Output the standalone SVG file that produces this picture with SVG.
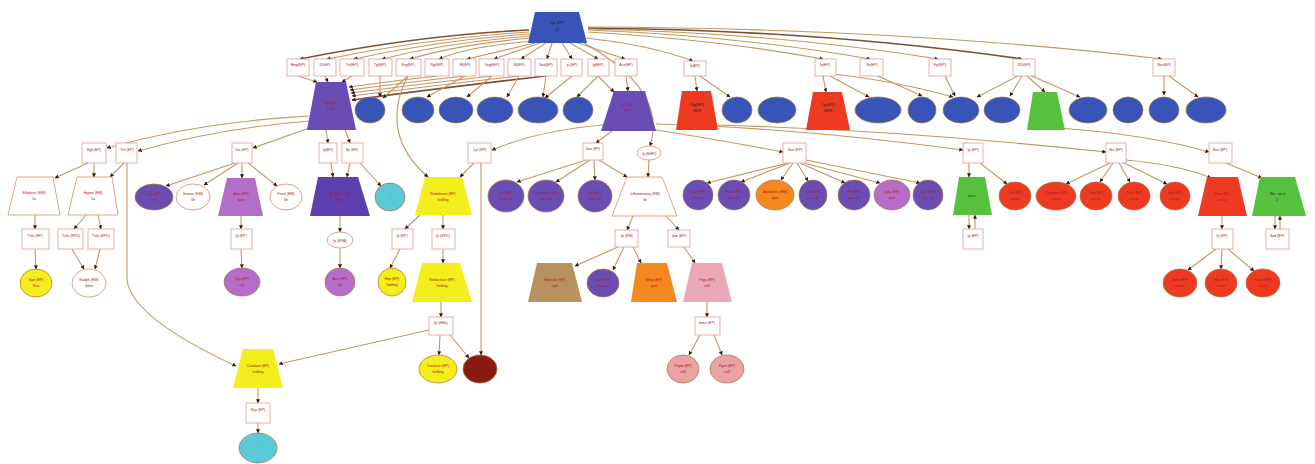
<svg xmlns="http://www.w3.org/2000/svg" width="1315" height="464" viewBox="0 0 1315 464">
<style>
.bg{fill:#fff}
.bx{fill:#fff;stroke:#e59a9a;stroke-width:.8}
.ed{fill:none;stroke:#c69660;stroke-width:1.1;marker-end:url(#ah)}
.dk{stroke:#7a5030;stroke-width:1.6}
.t{font-family:"Liberation Sans",Arial,sans-serif;font-size:3.6px;fill:#a81818;text-anchor:middle}
.tk{fill:#1a1a3a}
.ol{stroke:#a8703e;stroke-width:.7}
.blue{fill:#3954b9}
.pur{fill:#6a4db4}
.dpur{fill:#5d3fb0}
.red{fill:#ef3a22}
.grn{fill:#55c13c}
.orc{fill:#b46ec8}
.yel{fill:#f4ef1c}
.cyn{fill:#5cc9d9}
.org{fill:#f5881e}
.brn{fill:#b8925e}
.pnk{fill:#e8a8b8}
.salm{fill:#e9a3a3}
.drd{fill:#8b1a12}
.wht{fill:#fff;stroke:#d98a6a;stroke-width:.8}
</style>
<defs>
<marker id="ah" viewBox="0 0 6 6" refX="5.5" refY="3" markerWidth="4" markerHeight="4" markerUnits="userSpaceOnUse" orient="auto">
<path d="M0,0 L6,3 L0,6 z" fill="#2a1a10"/>
</marker>
</defs>
<rect class="bg" x="0" y="0" width="1315" height="464"/>

<g id="connectors">
<!-- root to row 1 -->
<path class="ed dk" d="M529,30 Q420,35 300,59"/>
<path class="ed" d="M529,32 Q430,38 327,59"/>
<path class="ed" d="M530,34 Q440,40 354,59"/>
<path class="ed" d="M531,36 Q450,42 382,59"/>
<path class="ed" d="M532,38 Q460,44 410,59"/>
<path class="ed" d="M533,41 Q470,46 439,59"/>
<path class="ed" d="M535,43 L467,59"/>
<path class="ed" d="M540,43 L494,59"/>
<path class="ed" d="M546,43 L521,59"/>
<path class="ed" d="M552,43 L547,59"/>
<path class="ed" d="M562,43 L572,59"/>
<path class="ed" d="M570,43 L598,59"/>
<path class="ed" d="M578,43 L625,59"/>
<path class="ed" d="M586,38 Q650,45 693,61"/>
<path class="ed" d="M588,32 Q720,40 823,59"/>
<path class="ed" d="M588,30 Q740,36 870,59"/>
<path class="ed" d="M588,29 Q780,33 938,59"/>
<path class="ed dk" d="M588,28 Q820,30 1022,59"/>
<path class="ed" d="M588,27 Q900,28 1162,59"/>
<path class="ed" d="M584,43 Q668,90 650,146"/>
<!-- row 1 to row 2 -->
<path class="ed" d="M298,76 L317,82"/>
<path class="ed" d="M325,76 L328,82"/>
<path class="ed" d="M352,76 L342,82"/>
<path class="ed" d="M437,76 Q400,80 349,87"/>
<path class="ed" d="M465,76 Q410,82 350,90"/>
<path class="ed" d="M492,76 Q420,84 351,93"/>
<path class="ed" d="M519,76 Q430,86 352,96"/>
<path class="ed dk" d="M546,76 Q440,88 352,100"/>
<path class="ed" d="M408,76 C395,100 385,140 428,177"/>
<path class="ed" d="M380,76 L380,97"/>
<path class="ed" d="M408,76 L383,98"/>
<path class="ed" d="M465,76 L427,97"/>
<path class="ed" d="M492,76 L467,97"/>
<path class="ed" d="M519,76 L507,97"/>
<path class="ed" d="M546,76 L543,97"/>
<path class="ed" d="M572,76 L545,98"/>
<path class="ed" d="M598,76 L577,97"/>
<path class="ed" d="M598,76 L614,92"/>
<path class="ed" d="M626,76 L628,91"/>
<path class="ed" d="M695,76 L697,91"/>
<path class="ed" d="M700,76 L730,97"/>
<path class="ed" d="M823,76 L826,92"/>
<path class="ed" d="M830,76 L869,97"/>
<path class="ed" d="M834,74 Q900,82 953,97"/>
<path class="ed" d="M878,76 L922,96"/>
<path class="ed" d="M945,76 L955,96"/>
<path class="ed" d="M1018,76 L977,97"/>
<path class="ed" d="M1022,76 L1010,96"/>
<path class="ed" d="M1027,76 L1045,92"/>
<path class="ed" d="M1032,76 L1080,97"/>
<path class="ed" d="M1164,76 L1164,95"/>
<path class="ed" d="M1169,76 L1198,97"/>
<!-- row 2 to row 3 -->
<path class="ed" d="M309,116 Q200,122 107,148"/>
<path class="ed" d="M310,121 Q220,128 138,151"/>
<path class="ed" d="M312,127 L253,148"/>
<path class="ed" d="M326,130 L328,143"/>
<path class="ed" d="M345,130 L350,143"/>
<path class="ed" d="M603,125 Q540,130 492,150"/>
<path class="ed" d="M612,131 L596,143"/>
<path class="ed" d="M650,129 Q720,140 783,152"/>
<path class="ed" d="M656,124 Q800,128 963,150"/>
<path class="ed" d="M716,125 Q900,130 1106,152"/>
<path class="ed" d="M1060,128 Q1150,135 1209,152"/>
<!-- row 3 to row 4 -->
<path class="ed" d="M88,163 L55,178"/>
<path class="ed" d="M94,163 L94,177"/>
<path class="ed" d="M124,163 L110,177"/>
<path class="ed" d="M127,163 L127,280 Q132,318 236,366"/>
<path class="ed" d="M235,163 L166,186"/>
<path class="ed" d="M238,163 L204,185"/>
<path class="ed" d="M242,163 L242,178"/>
<path class="ed" d="M248,163 L277,186"/>
<path class="ed" d="M331,163 L333,177"/>
<path class="ed" d="M350,163 L347,177"/>
<path class="ed" d="M360,163 L381,186"/>
<path class="ed" d="M474,163 L460,177"/>
<path class="ed" d="M481,163 L481,355"/>
<path class="ed" d="M586,160 L517,182"/>
<path class="ed" d="M590,160 L556,182"/>
<path class="ed" d="M594,160 L595,180"/>
<path class="ed" d="M599,160 L627,177"/>
<path class="ed" d="M649,160 L648,177"/>
<path class="ed" d="M788,163 L707,183"/>
<path class="ed" d="M790,163 L741,182"/>
<path class="ed" d="M793,163 L781,180"/>
<path class="ed" d="M797,163 L808,181"/>
<path class="ed" d="M800,163 L845,183"/>
<path class="ed" d="M804,163 L880,183"/>
<path class="ed" d="M806,160 L920,183"/>
<path class="ed" d="M969,163 L969,177"/>
<path class="ed" d="M980,163 L1007,184"/>
<path class="ed" d="M1110,163 L1066,184"/>
<path class="ed" d="M1113,163 L1100,182"/>
<path class="ed" d="M1119,163 L1130,182"/>
<path class="ed" d="M1124,163 L1167,184"/>
<path class="ed" d="M1126,160 Q1180,165 1211,178"/>
<path class="ed" d="M1226,163 L1262,178"/>
<!-- row 4 to row 5 -->
<path class="ed" d="M35,215 L35,229"/>
<path class="ed" d="M86,215 L74,229"/>
<path class="ed" d="M98,215 L101,229"/>
<path class="ed" d="M241,216 L241,229"/>
<path class="ed" d="M340,216 L340,232"/>
<path class="ed" d="M420,215 L405,229"/>
<path class="ed" d="M443,215 L443,229"/>
<path class="ed" d="M633,216 L627,230"/>
<path class="ed" d="M666,216 L679,230"/>
<path class="ed" d="M969,215 L969,229"/>
<path class="ed" d="M975,229 L975,215"/>
<path class="ed" d="M1222,216 L1222,229"/>
<path class="ed" d="M1275,216 L1275,229"/>
<path class="ed" d="M1280,229 L1280,216"/>
<!-- row 5 to row 6 -->
<path class="ed" d="M35,249 L36,269"/>
<path class="ed" d="M72,249 L84,269"/>
<path class="ed" d="M100,249 L95,269"/>
<path class="ed" d="M241,249 L242,268"/>
<path class="ed" d="M340,248 L340,268"/>
<path class="ed" d="M400,249 L390,268"/>
<path class="ed" d="M443,249 L443,263"/>
<path class="ed" d="M618,247 L575,266"/>
<path class="ed" d="M624,247 L613,270"/>
<path class="ed" d="M633,247 L641,263"/>
<path class="ed" d="M684,247 L695,263"/>
<path class="ed" d="M1216,249 L1188,270"/>
<path class="ed" d="M1222,249 L1221,269"/>
<path class="ed" d="M1228,249 L1254,271"/>
<!-- lower rows -->
<path class="ed" d="M441,302 L441,317"/>
<path class="ed" d="M707,302 L707,317"/>
<path class="ed" d="M440,335 L439,355"/>
<path class="ed" d="M450,335 L469,358"/>
<path class="ed" d="M429,330 L279,364"/>
<path class="ed" d="M700,335 L689,355"/>
<path class="ed" d="M714,335 L722,355"/>
<path class="ed" d="M258,388 L258,403"/>
<path class="ed" d="M258,423 L258,433"/>
</g>

<!-- root -->
<g id="root"><polygon class="blue" points="535,12 579,12 587,43 528,43"/><text class="t tk" x="557" y="24">Lyz (EP)</text><text class="t tk" x="557" y="31">12</text></g>

<!-- row 1 boxes -->
<g id="b1"><rect class="bx" x="287" y="59" width="22" height="17"/><text class="t" x="298" y="66">Bmp(EP)</text></g>
<g id="b2"><rect class="bx" x="314" y="59" width="22" height="17"/><text class="t" x="325" y="66">Il1(EP)</text></g>
<g id="b3"><rect class="bx" x="340" y="59" width="24" height="17"/><text class="t" x="352" y="66">Tnf(EP)</text></g>
<g id="b4"><rect class="bx" x="369" y="59" width="23" height="17"/><text class="t" x="380" y="66">Tgf(EP)</text></g>
<g id="b5"><rect class="bx" x="396" y="59" width="25" height="17"/><text class="t" x="408" y="66">Ifng(EP)</text></g>
<g id="b6"><rect class="bx" x="425" y="59" width="24" height="17"/><text class="t" x="437" y="66">Ngf(EP)</text></g>
<g id="b7"><rect class="bx" x="453" y="59" width="23" height="17"/><text class="t" x="465" y="66">Il6(EP)</text></g>
<g id="b8"><rect class="bx" x="479" y="59" width="25" height="17"/><text class="t" x="492" y="66">Vegf(EP)</text></g>
<g id="b9"><rect class="bx" x="508" y="59" width="23" height="17"/><text class="t" x="519" y="66">Il4(EP)</text></g>
<g id="b10"><rect class="bx" x="535" y="59" width="22" height="17"/><text class="t" x="546" y="66">Sod(EP)</text></g>
<g id="b11"><rect class="bx" x="561" y="59" width="21" height="17"/><text class="t" x="572" y="66">p-(EP)</text></g>
<g id="b12"><rect class="bx" x="588" y="59" width="21" height="17"/><text class="t" x="598" y="66">Igf(EP)</text></g>
<g id="b13"><rect class="bx" x="615" y="59" width="22" height="17"/><text class="t" x="626" y="66">Ace(EP)</text></g>
<g id="b14"><rect class="bx" x="684" y="61" width="22" height="15"/><text class="t" x="695" y="67">Ip(EP)</text></g>
<g id="b15"><rect class="bx" x="815" y="59" width="21" height="17"/><text class="t" x="825" y="66">Ip(EP)</text></g>
<g id="b16"><rect class="bx" x="860" y="59" width="23" height="17"/><text class="t" x="872" y="66">Ifn(EP)</text></g>
<g id="b17"><rect class="bx" x="929" y="59" width="22" height="17"/><text class="t" x="940" y="66">Fgf(EP)</text></g>
<g id="b18"><rect class="bx" x="1013" y="59" width="22" height="17"/><text class="t" x="1024" y="66">Il10(EP)</text></g>
<g id="b19"><rect class="bx" x="1153" y="59" width="22" height="17"/><text class="t" x="1164" y="66">Nos(EP)</text></g>

<!-- row 2 -->
<g id="t1"><polygon class="pur" points="316,82 346,82 356,130 307,130"/><text class="t" x="331" y="104">Sbc(EP)</text><text class="t" x="331" y="110">1,2,3</text></g>
<g id="e1"><ellipse class="blue ol" cx="370" cy="110" rx="15" ry="13"/><text class="t tk" x="370" y="108">· ·</text></g>
<g id="e2"><ellipse class="blue ol" cx="418" cy="110" rx="16" ry="13"/><text class="t tk" x="418" y="108">· ·</text></g>
<g id="e3"><ellipse class="blue ol" cx="456" cy="110" rx="17" ry="13"/><text class="t tk" x="456" y="108">· ·</text></g>
<g id="e4"><ellipse class="blue ol" cx="495" cy="110" rx="18" ry="13"/><text class="t tk" x="495" y="108">· ·</text></g>
<g id="e5"><ellipse class="blue ol" cx="538" cy="110" rx="20" ry="13"/><text class="t tk" x="538" y="108">· ·</text></g>
<g id="e6"><ellipse class="blue ol" cx="578" cy="110" rx="15" ry="13"/><text class="t tk" x="578" y="108">· ·</text></g>
<g id="t2"><polygon class="pur" points="614,91 645,91 656,131 601,131"/><text class="t" x="628" y="106">Ta1 (EP)</text><text class="t" x="628" y="112">ATP</text></g>
<g id="t3"><polygon class="red" points="682,91 711,91 718,130 676,130"/><text class="t tk" x="697" y="106">Pgp(EP)</text><text class="t tk" x="697" y="112">MDR</text></g>
<g id="e7"><ellipse class="blue ol" cx="737" cy="110" rx="15" ry="13"/><text class="t tk" x="737" y="108">· ·</text></g>
<g id="e8"><ellipse class="blue ol" cx="777" cy="110" rx="19" ry="13"/><text class="t tk" x="777" y="108">· ·</text></g>
<g id="t4"><polygon class="red" points="813,92 842,92 850,130 806,130"/><text class="t tk" x="828" y="106">Cyp(EP)</text><text class="t tk" x="828" y="112">MDR</text></g>
<g id="e9"><ellipse class="blue ol" cx="878" cy="110" rx="23" ry="13"/><text class="t tk" x="878" y="108">· ·</text></g>
<g id="e10"><ellipse class="blue ol" cx="922" cy="110" rx="14" ry="13"/><text class="t tk" x="922" y="108">· ·</text></g>
<g id="e11"><ellipse class="blue ol" cx="961" cy="110" rx="18" ry="13"/><text class="t tk" x="961" y="108">· ·</text></g>
<g id="e12"><ellipse class="blue ol" cx="1002" cy="110" rx="18" ry="13"/><text class="t tk" x="1002" y="108">· ·</text></g>
<g id="t5"><polygon class="grn" points="1033,92 1057,92 1065,130 1027,130"/><text class="t tk" x="1046" y="108">·</text><text class="t tk" x="1046" y="114">· ·</text></g>
<g id="e13"><ellipse class="blue ol" cx="1088" cy="110" rx="19" ry="13"/><text class="t tk" x="1088" y="108">· ·</text></g>
<g id="e14"><ellipse class="blue ol" cx="1128" cy="110" rx="15" ry="13"/><text class="t tk" x="1128" y="108">· ·</text></g>
<g id="e15"><ellipse class="blue ol" cx="1164" cy="110" rx="15" ry="13"/><text class="t tk" x="1164" y="108">· ·</text></g>
<g id="e16"><ellipse class="blue ol" cx="1206" cy="110" rx="20" ry="13"/><text class="t tk" x="1206" y="108">· ·</text></g>

<!-- row 3 -->
<g id="c1"><rect class="bx" x="82" y="143" width="24" height="20"/><text class="t" x="94" y="151">Hgf (EP)</text></g>
<g id="c2"><rect class="bx" x="116" y="143" width="21" height="20"/><text class="t" x="127" y="151">Tnf (EP)</text></g>
<g id="c3"><rect class="bx" x="232" y="143" width="20" height="20"/><text class="t" x="242" y="151">Ins (EP)</text></g>
<g id="c4"><rect class="bx" x="319" y="143" width="18" height="20"/><text class="t" x="328" y="151">Ip(EP)</text></g>
<g id="c5"><rect class="bx" x="342" y="143" width="21" height="20"/><text class="t" x="352" y="151">Sp (EP)</text></g>
<g id="c6"><rect class="bx" x="468" y="143" width="23" height="20"/><text class="t" x="480" y="151">Lpl (EP)</text></g>
<g id="c7"><rect class="bx" x="583" y="143" width="20" height="17"/><text class="t" x="593" y="150">Sox (EP)</text></g>
<g id="c8"><ellipse class="wht" cx="649" cy="153" rx="12" ry="7"/><text class="t" x="649" y="154.5">Ip (EHP)</text></g>
<g id="c9"><rect class="bx" x="783" y="143" width="23" height="20"/><text class="t" x="795" y="151">Stat (EP)</text></g>
<g id="c10"><rect class="bx" x="963" y="143" width="20" height="20"/><text class="t" x="973" y="151">Ip (EP)</text></g>
<g id="c11"><rect class="bx" x="1106" y="143" width="20" height="20"/><text class="t" x="1116" y="151">Bcl (EP)</text></g>
<g id="c12"><rect class="bx" x="1209" y="143" width="23" height="20"/><text class="t" x="1220" y="151">Bax (EP)</text></g>

<!-- row 4 -->
<g id="wa"><polygon class="wht" points="17,177 53,177 60,215 8,215"/><text class="t" x="34" y="194">Ethylene (EM)</text><text class="t" x="34" y="200">1a</text></g>
<g id="wb"><polygon class="wht" points="77,177 112,177 118,215 68,215"/><text class="t" x="93" y="194">Hypox (EM)</text><text class="t" x="93" y="200">1a</text></g>
<g id="p1"><ellipse class="pur ol" cx="154" cy="197" rx="19" ry="13"/><text class="t" x="154" y="195">Lcfa (EP)</text><text class="t" x="154" y="201">cell</text></g>
<g id="w1"><ellipse class="wht" cx="193" cy="197" rx="17" ry="13"/><text class="t" x="193" y="195">Ikemor (EM)</text><text class="t" x="193" y="201">lib</text></g>
<g id="o1"><polygon class="orc" points="227,178 255,178 263,216 218,216"/><text class="t" x="241" y="195">Ama (EP)</text><text class="t" x="241" y="201">ipso</text></g>
<g id="w2"><ellipse class="wht" cx="286" cy="197" rx="16" ry="13"/><text class="t" x="286" y="195">Fond (EM)</text><text class="t" x="286" y="201">lib</text></g>
<g id="dp"><polygon class="dpur" points="318,177 358,177 370,216 310,216"/><text class="t" x="340" y="195">Sp (EP) · Sd</text><text class="t" x="340" y="201">ipso a</text></g>
<g id="cy1"><ellipse class="cyn ol" cx="390" cy="197" rx="15" ry="14"/><text class="t tk" x="390" y="195">· ·</text><text class="t tk" x="390" y="201">· ·</text></g>
<g id="y1"><polygon class="yel" points="425,177 462,177 472,215 415,215"/><text class="t" x="443" y="195">Reduktase (EP)</text><text class="t" x="443" y="201">hoilling</text></g>
<g id="p2"><ellipse class="pur ol" cx="506" cy="196" rx="18" ry="16"/><text class="t" x="506" y="194">Isat (EP)</text><text class="t" x="506" y="200">ipso cpl</text></g>
<g id="p3"><ellipse class="pur ol" cx="546" cy="196" rx="18" ry="16"/><text class="t" x="546" y="194">Creatinase (EP)</text><text class="t" x="546" y="200">ipso cpl</text></g>
<g id="p4"><ellipse class="pur ol" cx="595" cy="196" rx="17" ry="16"/><text class="t" x="595" y="194">Sox (EP)</text><text class="t" x="595" y="200">ipso cpl</text></g>
<g id="wt"><polygon class="wht" points="627,177 662,177 677,216 612,216"/><text class="t" x="645" y="195">Inflammatory (EM)</text><text class="t" x="645" y="201">lib</text></g>
<g id="q1"><ellipse class="pur ol" cx="698" cy="195" rx="15" ry="15"/><text class="t" x="698" y="193">Ctsb (EP)</text><text class="t" x="698" y="199">ipso cpl</text></g>
<g id="q2"><ellipse class="pur ol" cx="734" cy="195" rx="16" ry="15"/><text class="t" x="734" y="193">Prkab (EP)</text><text class="t" x="734" y="199">ipso cpl</text></g>
<g id="q3"><ellipse class="org ol" cx="775" cy="195" rx="19" ry="15"/><text class="t" x="775" y="193">Aprataxin (EM)</text><text class="t" x="775" y="199">ipso</text></g>
<g id="q4"><ellipse class="pur ol" cx="813" cy="195" rx="14" ry="15"/><text class="t" x="813" y="193">Lps (EP)</text><text class="t" x="813" y="199">ipso cpl</text></g>
<g id="q5"><ellipse class="pur ol" cx="854" cy="195" rx="16" ry="15"/><text class="t" x="854" y="193">Gfs (EP)</text><text class="t" x="854" y="199">ipso cpl</text></g>
<g id="q6"><ellipse class="orc ol" cx="892" cy="195" rx="18" ry="15"/><text class="t" x="892" y="193">Lpla (EP)</text><text class="t" x="892" y="199">ipso</text></g>
<g id="q7"><ellipse class="pur ol" cx="928" cy="195" rx="15" ry="15"/><text class="t" x="928" y="193">Lipc (EP)</text><text class="t" x="928" y="199">ipso cpl</text></g>
<g id="g1"><polygon class="grn" points="959,177 985,177 992,215 953,215"/><text class="t tk" x="972" y="197">ex a²</text></g>
<g id="r1"><ellipse class="red ol" cx="1015" cy="196" rx="16" ry="14"/><text class="t" x="1015" y="194">Tnfa (EP)</text><text class="t" x="1015" y="200">tissue</text></g>
<g id="r2"><ellipse class="red ol" cx="1056" cy="196" rx="20" ry="14"/><text class="t" x="1056" y="194">Collagen (EP)</text><text class="t" x="1056" y="200">tissue</text></g>
<g id="r3"><ellipse class="red ol" cx="1096" cy="196" rx="16" ry="14"/><text class="t" x="1096" y="194">Timp (EP)</text><text class="t" x="1096" y="200">tissue</text></g>
<g id="r4"><ellipse class="red ol" cx="1134" cy="196" rx="16" ry="14"/><text class="t" x="1134" y="194">Tnfsf (EP)</text><text class="t" x="1134" y="200">tissue</text></g>
<g id="r5"><ellipse class="red ol" cx="1175" cy="196" rx="15" ry="14"/><text class="t" x="1175" y="194">Spp (EP)</text><text class="t" x="1175" y="200">tissue</text></g>
<g id="rt"><polygon class="red" points="1207,177 1238,177 1247,216 1198,216"/><text class="t" x="1222" y="195">Mmp (EP)</text><text class="t" x="1222" y="201">tissue</text></g>
<g id="g2"><polygon class="grn" points="1260,177 1295,177 1306,216 1252,216"/><text class="t tk" x="1278" y="195">Na · ex a²</text><text class="t tk" x="1278" y="201">1 ·</text></g>

<!-- row 5 -->
<g id="d1"><rect class="bx" x="22" y="229" width="27" height="20"/><text class="t" x="35" y="237">Tnfa (EP)</text></g>
<g id="d2"><rect class="bx" x="58" y="229" width="25" height="20"/><text class="t" x="71" y="237">Tnfa (EPD)</text></g>
<g id="d3"><rect class="bx" x="88" y="229" width="26" height="20"/><text class="t" x="101" y="237">Tnfa (EPD)</text></g>
<g id="d4"><rect class="bx" x="231" y="229" width="21" height="20"/><text class="t" x="241" y="237">Ip (EP)</text></g>
<g id="d5"><ellipse class="wht" cx="340" cy="240" rx="13" ry="8"/><text class="t" x="340" y="241.5">Ip (EPA)</text></g>
<g id="d6"><rect class="bx" x="392" y="229" width="21" height="20"/><text class="t" x="402" y="237">Ip (EP)</text></g>
<g id="d7"><rect class="bx" x="432" y="229" width="23" height="20"/><text class="t" x="443" y="237">Ip (EPD)</text></g>
<g id="d8"><rect class="bx" x="615" y="230" width="23" height="17"/><text class="t" x="627" y="237">Ip (EM)</text></g>
<g id="d9"><rect class="bx" x="668" y="230" width="22" height="17"/><text class="t" x="679" y="237">Ipm (EP)</text></g>
<g id="d10"><rect class="bx" x="963" y="229" width="20" height="20"/><text class="t" x="973" y="237">Ip (EP)</text></g>
<g id="d11"><rect class="bx" x="1212" y="229" width="21" height="20"/><text class="t" x="1222" y="237">Ip (EP)</text></g>
<g id="d12"><rect class="bx" x="1266" y="229" width="23" height="20"/><text class="t" x="1277" y="237">Sod (EP)</text></g>

<!-- row 6 -->
<g id="f1"><ellipse class="yel ol" cx="36" cy="283" rx="16" ry="14"/><text class="t" x="36" y="281">Gpx (EP)</text><text class="t" x="36" y="287">Ros</text></g>
<g id="f2"><ellipse class="wht" cx="89" cy="283" rx="17" ry="14"/><text class="t" x="89" y="281">Nadph (EM)</text><text class="t" x="89" y="287">Ipmu</text></g>
<g id="f3"><ellipse class="orc ol" cx="242" cy="282" rx="18" ry="14"/><text class="t" x="242" y="280">Tyrp (EP)</text><text class="t" x="242" y="286">cpl</text></g>
<g id="f4"><ellipse class="orc ol" cx="340" cy="282" rx="15" ry="14"/><text class="t" x="340" y="280">Ace (EP)</text><text class="t" x="340" y="286">cpl</text></g>
<g id="f5"><ellipse class="yel ol" cx="392" cy="282" rx="14" ry="14"/><text class="t" x="392" y="280">Hsp (EP)</text><text class="t" x="392" y="286">hoilling</text></g>
<g id="f6"><polygon class="yel" points="422,263 460,263 472,302 412,302"/><text class="t" x="442" y="281">Reductase (EP)</text><text class="t" x="442" y="287">hoilling</text></g>
<g id="f7"><polygon class="brn" points="537,263 572,263 582,302 528,302"/><text class="t" x="555" y="281">Epoxide (EP)</text><text class="t" x="555" y="287">cyth</text></g>
<g id="f8"><ellipse class="pur ol" cx="603" cy="283" rx="16" ry="14"/><text class="t" x="603" y="281">Lcat (EP)</text><text class="t" x="603" y="287">ipso cpl</text></g>
<g id="f9"><polygon class="org" points="637,263 667,263 677,302 631,302"/><text class="t" x="654" y="281">Mmp (EP)</text><text class="t" x="654" y="287">ipso</text></g>
<g id="f10"><polygon class="pnk" points="692,263 722,263 732,302 683,302"/><text class="t" x="707" y="281">Ptgs (EP)</text><text class="t" x="707" y="287">cell</text></g>
<g id="f11"><ellipse class="red ol" cx="1180" cy="283" rx="17" ry="14"/><text class="t" x="1180" y="281">Bmp (EP)</text><text class="t" x="1180" y="287">tissue</text></g>
<g id="f12"><ellipse class="red ol" cx="1221" cy="283" rx="16" ry="14"/><text class="t" x="1221" y="281">Spp (EP)</text><text class="t" x="1221" y="287">tissue</text></g>
<g id="f13"><ellipse class="red ol" cx="1263" cy="283" rx="17" ry="14"/><text class="t" x="1263" y="281">Runx (EP)</text><text class="t" x="1263" y="287">tissue</text></g>

<!-- row 7 -->
<g id="h1"><rect class="bx" x="429" y="317" width="24" height="18"/><text class="t" x="441" y="324">Ip (EMs)</text></g>
<g id="h2"><rect class="bx" x="695" y="317" width="25" height="18"/><text class="t" x="707" y="324">Ipms (EP)</text></g>

<!-- row 8 -->
<g id="i1"><polygon class="yel" points="243,349 273,349 283,388 233,388"/><text class="t" x="258" y="367">Catalase (EP)</text><text class="t" x="258" y="373">hoilling</text></g>
<g id="i2"><ellipse class="yel ol" cx="438" cy="369" rx="19" ry="14"/><text class="t" x="438" y="367">Catalase (EP)</text><text class="t" x="438" y="373">hoilling</text></g>
<g id="i3"><ellipse class="drd ol" cx="480" cy="369" rx="17" ry="14"/></g>
<g id="i4"><ellipse class="salm ol" cx="683" cy="369" rx="16" ry="14"/><text class="t" x="683" y="367">Ptgds (EP)</text><text class="t" x="683" y="373">cell</text></g>
<g id="i5"><ellipse class="salm ol" cx="727" cy="369" rx="17" ry="14"/><text class="t" x="727" y="367">Pges (EP)</text><text class="t" x="727" y="373">cell</text></g>

<!-- rows 9-10 -->
<g id="j1"><rect class="bx" x="246" y="403" width="24" height="20"/><text class="t" x="258" y="411">Ncp (EP)</text></g>
<g id="k1"><ellipse class="cyn ol" cx="258" cy="448" rx="19" ry="15"/><text class="t tk" x="258" y="446">· ·</text><text class="t tk" x="258" y="452">·</text></g>
</svg>
